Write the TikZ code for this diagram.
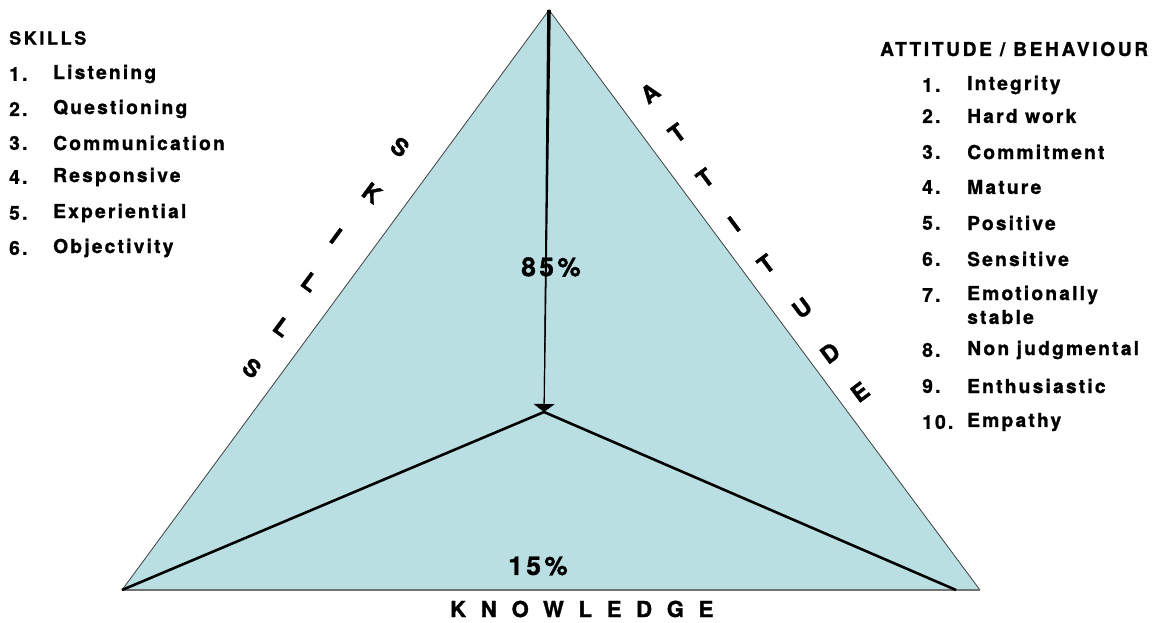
\documentclass[tikz,border=0pt]{standalone}
\usepackage{fontspec}
\setmainfont{TeX Gyre Heros}
\newfontfamily\listfont[LetterSpace=11.5,FakeBold=1.2]{TeX Gyre Heros}
\newfontfamily\headFont[LetterSpace=14.5,FakeBold=1.2]{TeX Gyre Heros}
\newfontfamily\wideFont[LetterSpace=67,FakeBold=1.5]{TeX Gyre Heros}
\newfontfamily\pctFont[LetterSpace=14,FakeBold=1.5]{TeX Gyre Heros}
\newfontfamily\sideFont[FakeBold=1.5]{TeX Gyre Heros}
\usetikzlibrary{arrows.meta}
\definecolor{triBlue}{RGB}{186,223,227}

\begin{document}
\begin{tikzpicture}[x=1pt,y=-1pt,
  item/.style={anchor=west,inner sep=0pt,font=\listfont\bfseries\fontsize{19.2}{20}\selectfont},
  sideletter/.style={inner sep=0pt,font=\sideFont\bfseries\fontsize{23.5}{23.5}\selectfont}]
  \useasboundingbox (0,0) rectangle (1166,623);
  \coordinate (apex) at (549,10);
  \coordinate (botL) at (122,590);
  \coordinate (botR) at (980,590);
  \coordinate (ctr) at (544,412);
  \coordinate (arrBase) at (544.2,404);
  \coordinate (footR) at (956,590);
  \fill[triBlue] (apex) -- (botL) -- (botR) -- cycle;
  \draw[black!75,line width=0.8pt] (botL) -- (apex) -- (botR);
  \draw[black!55,line width=2pt] (botL) -- (botR);
  \draw[line width=2.6pt,line join=round] (botL) -- (ctr) -- (footR);
  \fill ([xshift=-1.8pt]apex) -- ([xshift=1.8pt]apex)
    -- ([xshift=0.5pt]arrBase) -- ([xshift=-0.5pt]arrBase) -- cycle;
  \draw[line width=0.9pt,-{Triangle[width=21pt,length=8pt]}] (apex) -- (ctr);
  % left list
  \node[item,font=\headFont\bfseries\fontsize{18}{20}\selectfont] (skillsHead) at (9,38) {SKILLS};
  \foreach \n/\y/\t in {1/74/Listening,2/109/Questioning,3/143/Communication,
      4/177/Responsive,5/213/Experiential,6/248/Objectivity} {
    \node[item] (sNum\n) at (9,\y) {\n.};
    \node[item] (sItem\n) at (53,\y) {\t};
  }
  % right list
  \node[item,font=\headFont\bfseries\fontsize{19}{20}\selectfont] (attHead) at (880,49) {ATTITUDE / BEHAVIOUR};
  \foreach \n/\y/\t in {1/85/Integrity,2/116/Hard work,3/152/Commitment,
      4/187/Mature,5/223/Positive,6/259/Sensitive,7/295/Emotionally,
      8/350/Non judgmental,9/386/Enthusiastic,10/422/Empathy} {
    \node[item] (aNum\n) at (922,\y) {\n.};
    \node[item] (aItem\n) at (967,\y) {\t};
  }
  \node[item] (aItem7b) at (967,317) {stable};
  % edge words
  \foreach \l/\x/\y [count=\i] in {S/400/147,K/372/193,I/336/236,L/310/282,L/282/327,S/252/368}
    \node[sideletter,rotate=-36.4] (sk\i) at (\x,\y) {\l};
  \foreach \l/\x/\y [count=\i] in {A/650/93,T/677/133,T/705/178,I/734/224,T/766/264,
      U/802/308,D/830/353,E/860/392}
    \node[sideletter,rotate=36.6] (at\i) at (\x,\y) {\l};
  \node[inner sep=0pt,anchor=west,font=\wideFont\bfseries\fontsize{22}{22}\selectfont]
    (know) at (450,609) {KNOWLEDGE};
  \node[inner sep=0pt,font=\pctFont\bfseries\fontsize{26}{26}\selectfont] (pctTop) at (551,267) {85\%};
  \node[inner sep=0pt,font=\pctFont\bfseries\fontsize{26}{26}\selectfont] (pctBot) at (538,566) {15\%};
\end{tikzpicture}
\end{document}
